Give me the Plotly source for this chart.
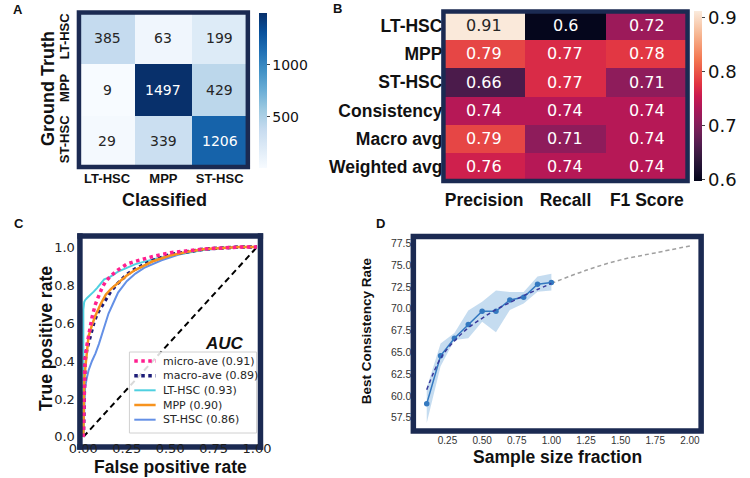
import plotly.graph_objects as go

W, H = 750, 478
NAVY = "#1b2a52"

# ---------------- Panel A: confusion matrix ----------------
cm_labels = ["LT-HSC", "MPP", "ST-HSC"]
cm_values = [[385, 63, 199],
             [9, 1497, 429],
             [29, 339, 1206]]
cm_ticks = [500, 1000]

# ---------------- Panel B: classification report ----------------
rep_rows = ["LT-HSC", "MPP", "ST-HSC", "Consistency", "Macro avg", "Weighted avg"]
rep_cols = ["Precision", "Recall", "F1 Score"]
rep_values = [[0.91, 0.60, 0.72],
              [0.79, 0.77, 0.78],
              [0.66, 0.77, 0.71],
              [0.74, 0.74, 0.74],
              [0.79, 0.71, 0.74],
              [0.76, 0.74, 0.74]]
rep_ticks = [0.6, 0.7, 0.8, 0.9]

# ---------------- Panel C: ROC curves ----------------
micro_fpr = [0, 0.005, 0.01, 0.02, 0.03, 0.05, 0.07, 0.09, 0.11, 0.13, 0.16, 0.2, 0.25, 0.3, 0.4, 0.5, 0.6, 0.7, 0.8, 0.9, 1.0]
micro_tpr = [0, 0.37, 0.42, 0.48, 0.54, 0.63, 0.70, 0.75, 0.79, 0.82, 0.85, 0.88, 0.91, 0.925, 0.95, 0.97, 0.98, 0.99, 0.995, 1.0, 1.0]
macro_fpr = [0, 0.01, 0.02, 0.04, 0.06, 0.08, 0.1, 0.13, 0.16, 0.2, 0.25, 0.3, 0.4, 0.5, 0.6, 0.7, 0.8, 0.9, 1.0]
macro_tpr = [0, 0.40, 0.46, 0.54, 0.60, 0.65, 0.68, 0.73, 0.77, 0.81, 0.855, 0.885, 0.93, 0.96, 0.975, 0.99, 0.995, 1.0, 1.0]
lt_fpr = [0, 0, 0.005, 0.01, 0.02, 0.04, 0.06, 0.08, 0.1, 0.12, 0.15, 0.18, 0.2, 0.25, 0.3, 0.4, 0.5, 0.6, 0.7, 0.8, 0.9, 1.0]
lt_tpr = [0, 0.67, 0.71, 0.72, 0.73, 0.745, 0.765, 0.785, 0.81, 0.83, 0.84, 0.86, 0.87, 0.89, 0.91, 0.935, 0.955, 0.97, 0.985, 0.995, 1.0, 1.0]
mpp_fpr = [0, 0.005, 0.012, 0.02, 0.03, 0.05, 0.07, 0.1, 0.13, 0.16, 0.2, 0.25, 0.3, 0.4, 0.5, 0.6, 0.7, 0.8, 0.9, 1.0]
mpp_tpr = [0, 0.30, 0.37, 0.45, 0.53, 0.59, 0.64, 0.70, 0.75, 0.78, 0.81, 0.85, 0.88, 0.925, 0.955, 0.975, 0.99, 0.995, 1.0, 1.0]
st_fpr = [0, 0.003, 0.006, 0.01, 0.02, 0.03, 0.05, 0.07, 0.09, 0.12, 0.145, 0.17, 0.2, 0.25, 0.3, 0.35, 0.45, 0.55, 0.65, 0.8, 0.9, 1.0]
st_tpr = [0, 0.12, 0.20, 0.26, 0.31, 0.35, 0.40, 0.44, 0.49, 0.58, 0.65, 0.70, 0.76, 0.82, 0.86, 0.89, 0.93, 0.96, 0.98, 0.995, 1.0, 1.0]
chance_x = [0, 1]
chance_y = [0, 1]
roc_names = ["micro-ave", "macro-ave", "LT-HSC", "MPP", "ST-HSC"]
roc_auc = [0.91, 0.89, 0.93, 0.90, 0.86]
roc_colors = ["#ff1f8f", "#1c1c78", "#4fd0e0", "#f7931e", "#6490e6"]
roc_dash = ["dot", "dot", "solid", "solid", "solid"]
roc_width = [3.5, 3.5, 2, 2.5, 2]

# ---------------- Panel D: learning curve ----------------
frac = [0.1, 0.2, 0.3, 0.4, 0.5, 0.6, 0.7, 0.8, 0.9, 1.0]
consistency = [59.1, 64.6, 66.6, 68.2, 69.7, 69.7, 71.0, 71.3, 72.8, 73.0]
band_lower = [56.9, 63.4, 66.4, 66.6, 68.5, 67.3, 69.85, 70.6, 71.95, 72.1]
band_upper = [60.9, 66.0, 67.2, 69.8, 70.8, 72.1, 71.9, 71.9, 73.7, 74.0]
fit_x = [0.1, 0.2, 0.3, 0.4, 0.5, 0.6, 0.7, 0.8, 0.9, 1.0]
fit_y = [60.7, 64.3, 66.3, 67.8, 68.9, 69.9, 70.7, 71.5, 72.2, 72.9]
extrap_x = [1.0, 1.25, 1.5, 1.75, 2.0]
extrap_y = [72.9, 74.4, 75.6, 76.4, 77.2]
d_xticks = [0.25, 0.5, 0.75, 1.0, 1.25, 1.5, 1.75, 2.0]
d_yticks = [57.5, 60.0, 62.5, 65.0, 67.5, 70.0, 72.5, 75.0, 77.5]


def pxx(p):
    return p / W


def pxy(p):
    return 1 - p / H


blues = [[0, "#f7fbff"], [0.125, "#deebf7"], [0.25, "#c6dbef"], [0.375, "#9ecae1"],
         [0.5, "#6baed6"], [0.625, "#4292c6"], [0.75, "#2171b5"], [0.875, "#08519c"],
         [1, "#08306b"]]
rocket = [[0.0, "#03051a"], [0.071, "#1c1030"], [0.143, "#35193e"], [0.214, "#521c4f"],
          [0.286, "#701f57"], [0.357, "#8e1c5b"], [0.429, "#ad1759"], [0.5, "#ca1a50"],
          [0.571, "#e13342"], [0.643, "#ea5547"], [0.714, "#f37651"], [0.786, "#f5956f"],
          [0.857, "#f6b48f"], [0.929, "#f8d0b6"], [1.0, "#faebdd"]]

BOLD = "Liberation Sans"
NUM = "DejaVu Sans"

# panel domains in pixels (x0, x1, ytop, ybottom)
domA = (70, 244, 12.5, 167)
domB = (445.5, 697, 11.5, 181)
domC = (71, 257, 236, 447)
domD = (414.5, 711, 236.5, 431)

fig = go.Figure()

cm_min = min(min(r) for r in cm_values)
cm_max = max(max(r) for r in cm_values)
fig.add_trace(go.Heatmap(
    z=cm_values, x=cm_labels, y=cm_labels, colorscale=blues, zmin=cm_min, zmax=cm_max,
    xaxis="x", yaxis="y", hoverinfo="skip",
    colorbar=dict(x=pxx(256), xanchor="left", y=pxy(13), yanchor="top",
                  len=(168 - 13) / H, lenmode="fraction", thickness=8, xpad=0, ypad=0,
                  outlinewidth=0, tickvals=cm_ticks, ticks="outside", ticklen=3,
                  tickcolor="#444", tickfont=dict(family=NUM, size=14, color="#111"))))

rep_min, rep_max = 0.598, 0.912
fig.add_trace(go.Heatmap(
    z=rep_values, x=rep_cols, y=rep_rows, colorscale=rocket, zmin=rep_min, zmax=rep_max,
    xaxis="x2", yaxis="y2", hoverinfo="skip",
    colorbar=dict(x=pxx(704), xanchor="left", y=pxy(10.7), yanchor="top",
                  len=(181 - 10.7) / H, lenmode="fraction", thickness=8, xpad=0, ypad=0,
                  outlinewidth=0, tickvals=rep_ticks, tickformat=".1f", ticks="outside",
                  ticklen=3, tickcolor="#444", tickfont=dict(family=NUM, size=18, color="#111"))))

# Panel C traces
fig.add_trace(go.Scatter(x=chance_x, y=chance_y, mode="lines", xaxis="x3", yaxis="y3",
                         line=dict(color="black", width=2, dash="6px,4px"), hoverinfo="skip"))
roc_x = [micro_fpr, macro_fpr, lt_fpr, mpp_fpr, st_fpr]
roc_y = [micro_tpr, macro_tpr, lt_tpr, mpp_tpr, st_tpr]
draw_order = [4, 2, 1, 3, 0]
for i in draw_order:
    fig.add_trace(go.Scatter(x=roc_x[i], y=roc_y[i], mode="lines", xaxis="x3", yaxis="y3",
                             name=f"{roc_names[i]} ({roc_auc[i]:.2f})",
                             line=dict(color=roc_colors[i], width=roc_width[i], dash=roc_dash[i]),
                             hoverinfo="skip"))

# Panel D traces
fig.add_trace(go.Scatter(x=frac, y=band_lower, mode="lines", line=dict(width=0),
                         xaxis="x4", yaxis="y4", hoverinfo="skip"))
fig.add_trace(go.Scatter(x=frac, y=band_upper, mode="lines", line=dict(width=0),
                         fill="tonexty", fillcolor="rgba(140,185,225,0.5)",
                         xaxis="x4", yaxis="y4", hoverinfo="skip"))
fig.add_trace(go.Scatter(x=extrap_x, y=extrap_y, mode="lines", line=dict(color="#a0a0a0", width=1.5, dash="4px,3px", shape="spline"),
                         xaxis="x4", yaxis="y4", hoverinfo="skip"))
fig.add_trace(go.Scatter(x=frac, y=consistency, mode="lines+markers",
                         line=dict(color="#3479c0", width=1.5), marker=dict(size=5.5, color="#3479c0"),
                         xaxis="x4", yaxis="y4", hoverinfo="skip"))
fig.add_trace(go.Scatter(x=fit_x, y=fit_y, mode="lines", line=dict(color="#3a3a9c", width=1.5, dash="4px,3px", shape="spline"),
                         xaxis="x4", yaxis="y4", hoverinfo="skip"))

common = dict(showgrid=False, zeroline=False, showline=False, ticks="")


def xdom(d):
    return [pxx(d[0]), pxx(d[1])]


def ydom(d):
    return [pxy(d[3]), pxy(d[2])]


fig.update_layout(
    width=W, height=H, autosize=False, margin=dict(l=0, r=0, t=0, b=0),
    paper_bgcolor="white", plot_bgcolor="rgba(0,0,0,0)", showlegend=False, hovermode=False,
    xaxis=dict(domain=xdom(domA), anchor="y", type="category", **common, ticklabelstandoff=2,
               tickfont=dict(family=BOLD, size=13, color="#111", weight="bold")),
    yaxis=dict(domain=ydom(domA), anchor="x", type="category", autorange="reversed", tickangle=-90,
               ticklabelstandoff=6,
               **common, tickfont=dict(family=BOLD, size=13, color="#111", weight="bold")),
    xaxis2=dict(domain=xdom(domB), anchor="y2", type="category", **common, ticklabelstandoff=6,
                tickfont=dict(family=BOLD, size=17.5, color="#111", weight="bold")),
    yaxis2=dict(domain=ydom(domB), anchor="x2", type="category", autorange="reversed",
                **common, tickfont=dict(family=BOLD, size=17.5, color="#111", weight="bold")),
    xaxis3=dict(domain=xdom(domC), anchor="y3", range=[-0.0196, 1.0196], **common,
                tickvals=[0, 0.25, 0.5, 0.75, 1.0], tickformat=".2f", ticklabelstandoff=-8,
                tickfont=dict(family=NUM, size=13, color="#222")),
    yaxis3=dict(domain=ydom(domC), anchor="x3", range=[-0.053, 1.058], **common,
                tickvals=[0, 0.2, 0.4, 0.6, 0.8, 1.0], tickformat=".1f", ticklabelstandoff=4,
                tickfont=dict(family=NUM, size=13, color="#222")),
    xaxis4=dict(domain=xdom(domD), anchor="y4", range=[0.0033, 2.0815], **common,
                tickvals=d_xticks, tickformat=".2f", ticklabelstandoff=2,
                tickfont=dict(family=BOLD, size=10, color="#333")),
    yaxis4=dict(domain=ydom(domD), anchor="x4", range=[55.97, 78.28], **common,
                tickvals=d_yticks, tickformat=".1f", ticksuffix="%", ticklabelstandoff=1,
                tickfont=dict(family=BOLD, size=10.5, color="#333")),
)

shapes = []
for d, th in [(domA, 4.5), (domB, 4.5), (domD, 5.5)]:
    shapes.append(dict(type="rect", xref="paper", yref="paper", x0=pxx(d[0]), x1=pxx(d[1]),
                       y0=pxy(d[3]), y1=pxy(d[2]), line=dict(color=NAVY, width=th),
                       fillcolor="rgba(0,0,0,0)", layer="above"))
# panel C frame: three sides above the curves, bottom side beneath the tick labels
thC = 5.5
cx0, cx1, cyt, cyb = pxx(domC[0]), pxx(domC[1]), pxy(domC[2]), pxy(domC[3])
ext_x = thC / 2 / W
ext_y = thC / 2 / H
for (x0, y0, x1, y1, lay) in [(cx0, cyb - ext_y, cx0, cyt + ext_y, "above"),
                              (cx1, cyb - ext_y, cx1, cyt + ext_y, "above"),
                              (cx0 - ext_x, cyt, cx1 + ext_x, cyt, "above"),
                              (cx0 - ext_x, cyb, cx1 + ext_x, cyb, "below")]:
    shapes.append(dict(type="line", xref="paper", yref="paper", x0=x0, x1=x1, y0=y0, y1=y1,
                       line=dict(color=NAVY, width=thC), layer=lay))

# Legend for panel C (box, swatches, labels)
leg_box = (122, 253, 352, 433)
shapes.append(dict(type="rect", xref="paper", yref="paper", x0=pxx(leg_box[0]), x1=pxx(leg_box[1]),
                   y0=pxy(leg_box[3]), y1=pxy(leg_box[2]), line=dict(color="#d0d0d0", width=1),
                   fillcolor="rgba(255,255,255,0.85)", layer="above"))
annotations = []
leg_rows = [361, 375.7, 390.3, 405, 419.7]
for i, yy in enumerate(leg_rows):
    shapes.append(dict(type="line", xref="paper", yref="paper", x0=pxx(127), x1=pxx(149),
                       y0=pxy(yy), y1=pxy(yy), layer="above",
                       line=dict(color=roc_colors[i], width=roc_width[i], dash=roc_dash[i])))
    annotations.append(dict(xref="paper", yref="paper", x=pxx(155), y=pxy(yy), xanchor="left",
                            yanchor="middle", showarrow=False,
                            text=f"{roc_names[i]} ({roc_auc[i]:.2f})",
                            font=dict(family=NUM, size=11, color="#262626")))
fig.update_layout(shapes=shapes)

# cell texts
for r, row in enumerate(cm_values):
    for c, v in enumerate(row):
        norm = (v - cm_min) / (cm_max - cm_min)
        annotations.append(dict(x=cm_labels[c], y=cm_labels[r], xref="x", yref="y", text=str(v),
                                showarrow=False, font=dict(family=NUM, size=14,
                                                           color="white" if norm > 0.6 else "#262626")))
for r, row in enumerate(rep_values):
    for c, v in enumerate(row):
        norm = (v - rep_min) / (rep_max - rep_min)
        annotations.append(dict(x=rep_cols[c], y=rep_rows[r], xref="x2", yref="y2", text=f"{v:g}",
                                showarrow=False, font=dict(family=NUM, size=16,
                                                           color="#262626" if norm > 0.8 else "white")))


def label(text, x, y, size, angle=0, italic=False, family=BOLD):
    annotations.append(dict(xref="paper", yref="paper", x=pxx(x), y=pxy(y), text=text,
                            showarrow=False, textangle=angle, xanchor="center", yanchor="middle",
                            font=dict(family=family, size=size, color="#111", weight="bold",
                                      style="italic" if italic else "normal")))


label("Classified", 158, 200, 18)
label("Ground Truth", 38, 88, 18, angle=-90)
label("False positive rate", 164, 467, 17.5)
label("True positive rate", 36, 338, 17.5, angle=-90)
label("AUC", 220, 343, 17, italic=True)
label("Sample size fraction", 563, 457, 17.5)
label("Best Consistency Rate", 366, 331, 13.5, angle=-90)
label("A", 7, 9, 13)
label("B", 336, 8, 13)
label("C", 8, 223, 13)
label("D", 381, 223, 13)

fig.update_layout(annotations=annotations)
fig.write_html("out.html", config={"displayModeBar": False},
               post_script="document.body.style.margin='0px'; document.body.style.padding='0px';")
